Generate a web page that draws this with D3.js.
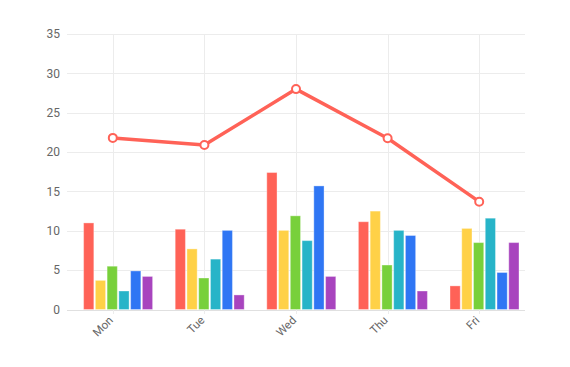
<!DOCTYPE html>
<html><head><meta charset="utf-8">
<script src="https://cdn.jsdelivr.net/npm/d3@7"></script>
<style>body{margin:0;background:#fff}svg{display:block;font-family:Roboto,"Noto Sans",sans-serif}</style>
</head><body><svg id="c" width="570" height="367"></svg>
<script>
const categories = ["Mon","Tue","Wed","Thu","Fri"];
const seriesNames = ["A","B","C","D","E","F"];
const seriesColors = ["#FF6257","#FFD147","#78D03B","#27B4C8","#2F76F4","#A844BE"];
const A = [11.0, 10.2, 17.4, 11.15, 3.0];
const B = [3.7, 7.7, 10.05, 12.5, 10.3];
const C = [5.5, 4.0, 11.9, 5.65, 8.5];
const D = [2.35, 6.4, 8.75, 10.05, 11.6];
const E = [4.9, 10.05, 15.7, 9.4, 4.7];
const F = [4.2, 1.85, 4.2, 2.35, 8.5];
const lineValues = [21.8, 20.9, 28.0, 21.75, 13.7];
const yTicks = [0,5,10,15,20,25,30,35];
const barSeries = [A,B,C,D,E,F];

const svg = d3.select("#c");
const x = d3.scaleBand().domain(categories).range([67,525]);
const y = d3.scaleLinear().domain([0,35]).range([309.5,34]);
const sub = d3.scaleBand().domain(seriesNames).range([0,69]).paddingInner(0.13);
const cx = c => x(c) + x.bandwidth()/2;

// horizontal grid
svg.append("g").selectAll("line").data(yTicks).join("line")
  .attr("x1",67).attr("x2",525)
  .attr("y1",d=>Math.round(y(d))+0.5).attr("y2",d=>Math.round(y(d))+0.5)
  .attr("stroke",d=>d===0?"#e0e0e0":"#ececec").attr("stroke-width",1);
// vertical grid
svg.append("g").selectAll("line").data(categories).join("line")
  .attr("x1",d=>Math.round(cx(d))+0.5).attr("x2",d=>Math.round(cx(d))+0.5)
  .attr("y1",34).attr("y2",314)
  .attr("stroke","#ececec").attr("stroke-width",1);

// y labels
svg.append("g").selectAll("text").data(yTicks).join("text")
  .attr("x",60).attr("y",d=>y(d)).attr("dy","0.35em")
  .attr("text-anchor","end").attr("font-size",12).attr("fill","#666")
  .text(d=>d);

// x labels
svg.append("g").selectAll("text").data(categories).join("text")
  .attr("transform",d=>`translate(${cx(d)+1},${321}) rotate(-45)`)
  .attr("text-anchor","end").attr("font-size",11.5).attr("fill","#666")
  .text(d=>d);

// bars
barSeries.forEach((vals,si)=>{
  svg.append("g").selectAll("rect").data(vals).join("rect")
    .attr("x",(v,i)=>cx(categories[i]) + 5.3 - 34.5 + sub(seriesNames[si]))
    .attr("width",sub.bandwidth())
    .attr("y",v=>y(v)).attr("height",v=>y(0)-y(v))
    .attr("fill",seriesColors[si])
    .attr("stroke","#fff").attr("stroke-opacity",0.35).attr("stroke-width",1);
});

// line
const line = d3.line().x((v,i)=>cx(categories[i])).y(v=>y(v));
svg.append("path").datum(lineValues).attr("d",line)
  .attr("fill","none").attr("stroke","#FF6257").attr("stroke-width",3.5)
  .attr("stroke-linejoin","round");
svg.append("g").selectAll("circle").data(lineValues).join("circle")
  .attr("cx",(v,i)=>cx(categories[i])).attr("cy",v=>y(v)).attr("r",4)
  .attr("fill","#fff").attr("stroke","#FF6257").attr("stroke-width",2);
</script></body></html>
